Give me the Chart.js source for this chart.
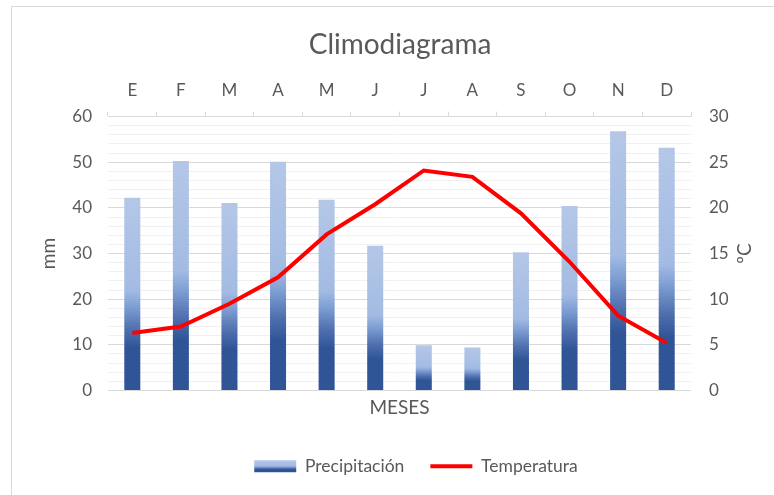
<!DOCTYPE html>
<html>
<head>
<meta charset="utf-8">
<script src="https://cdn.jsdelivr.net/npm/chart.js@4"></script>
<style>
  html, body { margin: 0; padding: 0; background: #fff; overflow: hidden; }
  #marco { position: absolute; left: 11px; top: 6px; width: 800px; height: 520px; border: 1px solid #d9d9d9; }
  #grafico { display: block; }
</style>
</head>
<body>
<div id="marco"><canvas id="grafico" width="762" height="488"></canvas></div>
<script>
// datos del climodiagrama
const meses = ['E', 'F', 'M', 'A', 'M', 'J', 'J', 'A', 'S', 'O', 'N', 'D'];
const precipitacion = [42.2, 50.3, 41.1, 50.1, 41.8, 31.7, 9.9, 9.4, 30.3, 40.4, 56.8, 53.2];
const temperatura = [6.3, 7.0, 9.5, 12.4, 17.1, 20.4, 24.1, 23.4, 19.4, 14.1, 8.2, 5.2];

const gris = '#595959';
const fuente = 'Lato, "Open Sans", sans-serif';

function degradado(ctx, y0, y1) {
  const g = ctx.createLinearGradient(0, y0, 0, y1);
  g.addColorStop(0, '#2F5597');
  g.addColorStop(0.22, '#2F5597');
  g.addColorStop(0.32, '#5070AF');
  g.addColorStop(0.43, '#7C9CD3');
  g.addColorStop(0.52, '#A3BBE3');
  g.addColorStop(1, '#B4C7E7');
  return g;
}

function colorBarra(c) {
  const chart = c.chart;
  const y = chart.scales.y;
  if (!y || c.type !== 'data') return '#2F5597';
  return degradado(chart.ctx, y.getPixelForValue(0), y.getPixelForValue(c.raw));
}

// el título y la leyenda van centrados sobre el área del gráfico, no sobre el lienzo
const ajustes = {
  id: 'ajustes',
  afterLayout(chart) {
    const t = chart.titleBlock;
    if (t) { t.left += 7; t.right += 7; }
    const lg = chart.legend;
    if (lg) { lg.left += 23; lg.right += 23; lg.top += 2; lg.bottom += 2; }
  },
  beforeDraw(chart) {
    const lg = chart.legend;
    if (!lg || !lg.legendHitBoxes.length) return;
    const hb = lg.legendHitBoxes[0];
    const cy = hb.top + hb.height / 2;
    lg.legendItems[0].fillStyle = degradado(chart.ctx, cy + 6, cy - 6);
  },
  // título del eje derecho girado como el izquierdo (de abajo arriba)
  afterDraw(chart) {
    const c = chart.ctx;
    const a = chart.chartArea;
    const s = chart.scales.y1;
    c.save();
    c.translate(s.right - 29, (a.top + a.bottom) / 2);
    c.rotate(-Math.PI / 2);
    c.font = '19px ' + fuente;
    c.fillStyle = gris;
    c.textAlign = 'center';
    c.textBaseline = 'middle';
    c.fillText('ºC', 0, 0);
    c.restore();
  }
};

new Chart(document.getElementById('grafico'), {
  data: {
    labels: meses,
    datasets: [
      {
        type: 'bar',
        label: 'Precipitación',
        data: precipitacion,
        yAxisID: 'y',
        backgroundColor: colorBarra,
        categoryPercentage: 1,
        barPercentage: 0.33,
        order: 1
      },
      {
        type: 'line',
        label: 'Temperatura',
        data: temperatura,
        yAxisID: 'y1',
        borderColor: '#FF0000',
        borderWidth: 4,
        pointRadius: 0,
        tension: 0,
        order: 0
      }
    ]
  },
  options: {
    responsive: false,
    animation: false,
    layout: { padding: { left: 0, right: 0, top: 0, bottom: 12 } },
    plugins: {
      title: {
        display: true,
        text: 'Climodiagrama',
        color: gris,
        font: { family: fuente, size: 28, weight: 'normal' },
        padding: { top: 21, bottom: 15 }
      },
      legend: {
        position: 'bottom',
        labels: {
          color: gris,
          font: { family: fuente, size: 17.5 },
          usePointStyle: true,
          pointStyleWidth: 42,
          boxHeight: 12,
          padding: 26,
          generateLabels: chart => [
            { text: 'Precipitación', fillStyle: '#7C9CD3', strokeStyle: 'rgba(0,0,0,0)', lineWidth: 0, pointStyle: 'rect', datasetIndex: 0, fontColor: gris },
            { text: 'Temperatura', fillStyle: '#FF0000', strokeStyle: '#FF0000', lineWidth: 4, pointStyle: 'line', datasetIndex: 1, fontColor: gris }
          ]
        }
      },
      tooltip: { enabled: false }
    },
    scales: {
      x: {
        type: 'category',
        position: 'top',
        offset: true,
        grid: { drawOnChartArea: false, drawTicks: true, tickLength: 5, color: '#d9d9d9', offset: true },
        border: { display: true, color: '#d9d9d9' },
        ticks: { color: gris, font: { family: fuente, size: 17 }, padding: 11 },
        afterFit: s => { s.height = 40; }
      },
      x2: {
        type: 'category',
        position: 'bottom',
        labels: meses,
        grid: { display: false },
        border: { display: false },
        ticks: { display: false },
        title: { display: true, text: 'MESES', color: gris, font: { family: fuente, size: 19 }, padding: { top: 0, bottom: 10 } },
        afterFit: s => { s.height = 39; }
      },
      y: {
        position: 'left',
        min: 0,
        max: 60,
        ticks: {
          stepSize: 2,
          autoSkip: false,
          color: gris,
          font: { family: fuente, size: 17 },
          padding: 16,
          callback: v => (v % 10 === 0 ? v : '')
        },
        grid: {
          drawTicks: false,
          color: c => (c.tick.value % 10 === 0 ? '#d9d9d9' : '#f0f0f0')
        },
        border: { display: false },
        title: { display: true, text: 'mm', color: gris, font: { family: fuente, size: 19 }, padding: { top: 25, bottom: 0 } },
        afterFit: s => { s.width = 96; }
      },
      y1: {
        position: 'right',
        min: 0,
        max: 30,
        ticks: { stepSize: 5, color: gris, font: { family: fuente, size: 17 }, padding: 10 },
        grid: { display: false },
        border: { display: false },
        title: { display: false },
        afterFit: s => { s.width = 83; }
      }
    }
  },
  plugins: [ajustes]
});
</script>
</body>
</html>
